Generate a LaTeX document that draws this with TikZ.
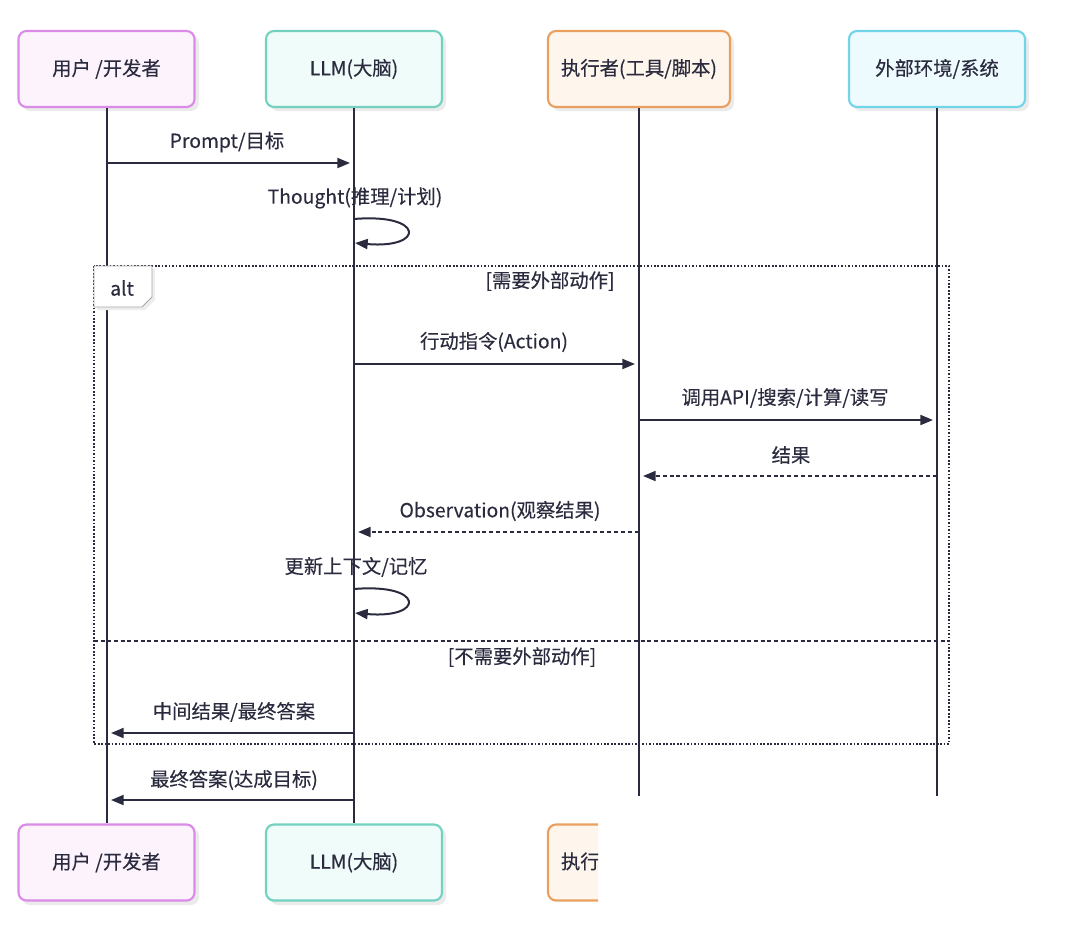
\documentclass[tikz,border=0pt]{standalone}
\usepackage{fontspec}
\setmainfont{Noto Sans CJK SC}[FakeBold=0.3]
\usetikzlibrary{arrows.meta}
\definecolor{ink}{HTML}{2B2B3F}
\definecolor{uB}{HTML}{DA8BE8}\definecolor{uF}{HTML}{FCF3FD}
\definecolor{lB}{HTML}{72D2BF}\definecolor{lF}{HTML}{F0FCF9}
\definecolor{eB}{HTML}{E9A05F}\definecolor{eF}{HTML}{FEF6EC}
\definecolor{xB}{HTML}{72D4E9}\definecolor{xF}{HTML}{EEFBFE}
\tikzset{
  actor/.style={draw=#1, line width=1.6pt, rounded corners=6pt, minimum width=132pt, minimum height=57pt, font=\fontsize{14.5}{16}\selectfont, text=ink},
  wideactor/.style={actor=#1, minimum width=136.5pt},
  shadowbox/.style={fill=black!8, rounded corners=6pt},
  life/.style={draw=ink, line width=1.5pt},
  msg/.style={draw=ink, line width=1.5pt, -{Triangle[length=9.5pt,width=7.5pt]}},
  reply/.style={msg, dash pattern=on 3pt off 2.2pt},
  lbl/.style={font=\fontsize{14.5}{16}\selectfont, text=ink},
}
\begin{document}
\begin{tikzpicture}[x=0.75pt,y=-0.75pt]
\useasboundingbox (0,0) rectangle (1080,933);
% shadows
\foreach \a/\b in {18/195,266/442,548/730,849/1025}{
  \fill[shadowbox] (\a+4,35) rectangle (\b+4,111);
}
\foreach \a/\b in {18/195,266/442}{
  \fill[shadowbox] (\a+4,828) rectangle (\b+4,905);
}
% top actors
\node[actor=uB, fill=uF] (u) at (106.5,69) {用户 /开发者};
\node[actor=lB, fill=lF] (l) at (354,69) {LLM(大脑)};
\node[wideactor=eB, fill=eF] (e) at (639,69) {执行者(工具/脚本)};
\node[actor=xB, fill=xF] (x) at (937,69) {外部环境/系统};
% bottom actors
\node[actor=uB, fill=uF] (ub) at (106.5,862.5) {用户 /开发者};
\node[actor=lB, fill=lF] (lb) at (354,862.5) {LLM(大脑)};
\begin{scope}
  \clip (538,815) rectangle (598,912);
  \node[wideactor=eB, fill=eF] (eb) at (639,862.5) {执行者(工具/脚本)};
\end{scope}
\coordinate (eend) at (639,796);
\coordinate (xend) at (937,796);
% lifelines
\draw[life] (u.south) -- (ub.north);
\draw[life] (l.south) -- (lb.north);
\draw[life] (e.south) -- (eend);
\draw[life] (x.south) -- (xend);
% coordinates on lifelines
\foreach \n/\y in {1/163,2/364,3/420,4/476,5/532,6/733,7/800}{
  \coordinate (u\n) at (107,\y);
  \coordinate (l\n) at (354,\y);
  \coordinate (e\n) at (639,\y);
  \coordinate (x\n) at (937,\y);
}
% Prompt
\node[lbl] (t1) at (227,142) {Prompt/目标};
\draw[msg] (u1) -- ([xshift=-3]l1);
% Thought
\node[lbl] (t2) at (355,198) {Thought(推理/计划)};
\coordinate (la) at (354,219);
\coordinate (lbb) at (355,243);
\draw[msg] (la) .. controls (425,213) and (425,249) .. (lbb);
% alt frame
\coordinate (fa) at (94,266);
\coordinate (fb) at (949,744);
\draw[ink, line width=1.3pt, dash pattern=on 1.3pt off 1.3pt] (fa) rectangle (fb);
\fill[black!7] (97,269) -- (155,269) -- (155,300) -- (145,310) -- (97,310) -- cycle;
\draw[black!35, fill=white, line width=0.7pt] (94,266) -- (152,266) -- (152,297) -- (142,307) -- (94,307) -- cycle;
\node[lbl] (alt) at (122,288) {alt};
\node[lbl] (c1) at (550,281) {[需要外部动作]};
% action
\node[lbl] (t3) at (494,342) {行动指令(Action)};
\draw[msg] (l2) -- ([xshift=-3]e2);
\node[lbl] (t4) at (785,398) {调用API/搜索/计算/读写};
\draw[msg] (e3) -- ([xshift=-3]x3);
\node[lbl] (t5) at (791,455) {结果};
\draw[reply] (x4) -- ([xshift=3]e4);
\node[lbl] (t6) at (500,511) {Observation(观察结果)};
\draw[reply] (e5) -- ([xshift=3]l5);
\node[lbl] (t7) at (356,567) {更新上下文/记忆};
\coordinate (lc) at (354,589);
\coordinate (ld) at (355,613);
\draw[msg] (lc) .. controls (425,583) and (425,619) .. (ld);
% divider
\coordinate (da) at (94,641);
\coordinate (db) at (949,641);
\draw[ink, line width=1.3pt, dash pattern=on 3pt off 2pt] (da) -- (db);
\node[lbl] (c2) at (522,657) {[不需要外部动作]};
% replies to user
\node[lbl] (t8) at (234,712) {中间结果/最终答案};
\draw[msg] (l6) -- ([xshift=3]u6);
\node[lbl] (t9) at (234,780) {最终答案(达成目标)};
\draw[msg] (l7) -- ([xshift=3]u7);
\end{tikzpicture}
\end{document}
